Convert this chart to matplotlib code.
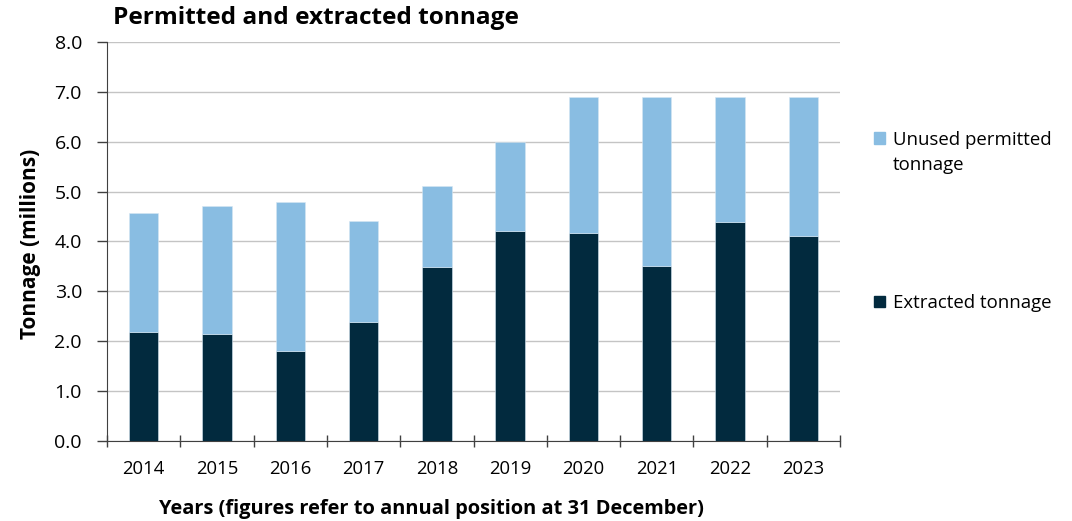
import numpy as np
import matplotlib
matplotlib.use("Agg")
import matplotlib.pyplot as plt
from matplotlib.patches import Patch, Rectangle
from matplotlib.legend_handler import HandlerPatch

plt.rcParams['font.family'] = ['Open Sans', 'DejaVu Sans']

years = ['2014', '2015', '2016', '2017', '2018', '2019', '2020', '2021', '2022', '2023']
extracted = [2.18, 2.14, 1.81, 2.38, 3.48, 4.21, 4.17, 3.50, 4.38, 4.10]
permitted = [4.56, 4.71, 4.80, 4.40, 5.12, 6.00, 6.89, 6.89, 6.89, 6.89]
unused = [p - e for p, e in zip(permitted, extracted)]

dark = '#022a3e'
light = '#89bde2'

fig = plt.figure(figsize=(10.72, 5.21), dpi=100)
ax = fig.add_axes([0.0998, 0.1541, 0.6838, 0.7652])

x = np.arange(len(years))
ax.bar(x, extracted, width=0.4, color=dark, edgecolor='#d6e6f2', linewidth=0.4, zorder=3)
ax.bar(x, unused, width=0.4, bottom=extracted, color=light, edgecolor='#d6e6f2', linewidth=0.4, zorder=3)

ax.set_xlim(-0.5, len(years) - 0.5)
ax.set_ylim(0, 8)
yt = np.arange(0, 8.1, 1)
ax.set_yticks(yt)
ax.set_yticklabels([f'{v:.1f}' for v in yt], fontsize=14)
ax.yaxis.grid(True, color='#c4c4c4', linewidth=1, zorder=0)
ax.set_axisbelow(True)

# category labels centred, tick marks between categories
ax.set_xticks(x)
ax.set_xticklabels(years, fontsize=13.3)
ax.tick_params(axis='x', which='major', length=0, pad=14)
ax.set_xticks(np.arange(-0.5, len(years)), minor=True)
ax.tick_params(axis='x', which='minor', length=9, width=1, direction='inout', color='#404040')
ax.tick_params(axis='y', length=7, width=1, color='#404040', pad=11)

for s in ['top', 'right']:
    ax.spines[s].set_visible(False)
for s in ['left', 'bottom']:
    ax.spines[s].set_color('#404040')

fig.text(0.028, 0.5326, 'Tonnage (millions)', fontsize=15, fontweight='bold',
         rotation=90, ha='center', va='center')
fig.text(0.402, 0.023, 'Years (figures refer to annual position at 31 December)',
         fontsize=14.4, fontweight='bold', ha='center', va='center')
fig.text(0.1054, 0.9655, 'Permitted and extracted tonnage', fontsize=17.6,
         fontweight='bold', ha='left', va='center')


def top_square(shift):
    def make(legend, orig_handle, xdescent, ydescent, width, height, fontsize):
        return Rectangle((-xdescent, -ydescent + shift), width, height)
    return make


handles = [Patch(color=light), Patch(color=dark)]
leg = fig.legend(handles, ['Unused permitted\ntonnage', 'Extracted tonnage'],
                 loc='upper left', bbox_to_anchor=(0.7996, 0.7815), frameon=False,
                 fontsize=13.4, labelspacing=6.43, handlelength=0.6, handleheight=0.6,
                 handletextpad=0.4,
                 handler_map={handles[0]: HandlerPatch(patch_func=top_square(10.8))})
for t in leg.get_texts():
    t.set_linespacing(1.56)

fig.savefig('out.png', dpi=100)
